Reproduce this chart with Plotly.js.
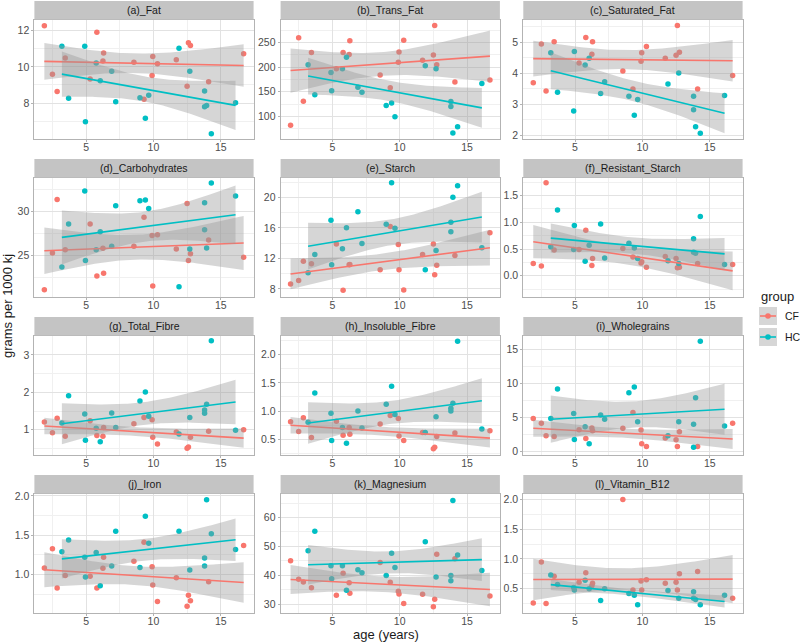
<!DOCTYPE html>
<html><head><meta charset="utf-8">
<script src="https://cdn.plot.ly/plotly-3.0.1.min.js"></script>
<style>html,body{margin:0;padding:0;background:#fff}</style>
</head><body><div id="chart" style="width:800px;height:644px"></div>
<script>
// ---- data ----
const groups = ['CF', 'HC'];
const ageCF = [1.9, 2.5, 2.85, 3.45, 5.3, 5.8, 6.25, 6.3, 8.55, 9.3, 9.9, 9.95, 10.3, 11.7, 12.5, 12.6, 12.75, 14.1, 16.7];
const ageHC = [3.2, 3.7, 4.9, 4.95, 5.75, 6.05, 6.9, 7.2, 9.0, 9.4, 9.65, 11.9, 12.7, 13.8, 13.8, 13.95, 14.3, 16.1];
const panelTitles = ['(a)_Fat', '(b)_Trans_Fat', '(c)_Saturated_Fat', '(d)_Carbohydrates', '(e)_Starch',
  '(f)_Resistant_Starch', '(g)_Total_Fibre', '(h)_Insoluble_Fibre', '(i)_Wholegrains', '(j)_Iron',
  '(k)_Magnesium', '(l)_Vitamin_B12'];
const fatCF = [12.28, 9.59, 8.64, 10.49, 9.33, 11.91, 10.32, 10.77, 10.26, 8.21, 9.53, 10.58, 10.17, 10.39, 8.93, 11.33, 11.18, 9.18, 10.73];
const fatHC = [11.14, 8.26, 11.14, 6.97, 10.22, 9.23, 9.76, 8.07, 8.3, 7.16, 8.43, 11.03, 9.76, 8.67, 7.79, 7.87, 6.3, 8.02];
const transCF = [82, 260, 131, 230, 197, 230, 226, 254, 184, 158, 210, 231, 255, 214, 225, 285, 205, 170, 174];
const transHC = [205, 144, 189, 152, 197, 220, 159, 149, 122, 127, 99, 203, 197, 130, 120, 66, 79, 167];
const satCF = [3.70, 4.95, 3.43, 5.02, 4.34, 5.16, 4.62, 5.02, 4.08, 3.50, 4.39, 4.67, 4.87, 4.49, 4.59, 5.55, 4.68, 3.50, 3.93];
const satHC = [4.67, 3.39, 2.79, 4.71, 4.27, 4.49, 3.35, 3.73, 3.26, 2.65, 3.16, 3.66, 4.01, 3.26, 2.83, 2.28, 2.07, 3.29];
const carbCF = [21.15, 25.31, 31.37, 25.69, 28.59, 22.71, 25.84, 23.02, 26.07, 29.35, 27.29, 21.6, 27.37, 25.76, 30.92, 24.47, 25.23, 26.79, 24.85];
const carbHC = [23.74, 28.59, 32.33, 24.47, 25.69, 27.71, 26.07, 30.65, 31.22, 31.3, 30.34, 21.49, 25.76, 30.99, 27.94, 25.88, 33.24, 31.76];
const starchCF = [8.65, 9.1, 11.62, 11.31, 13.88, 7.81, 11.18, 11.2, 10.51, 16.18, 13.83, 10.51, 7.86, 12.5, 13.88, 9.85, 11.09, 12.37, 15.38];
const starchHC = [10.12, 12.5, 17.02, 11.18, 13.26, 16.04, 18.12, 13.96, 16.49, 21.93, 15.96, 10.51, 13.04, 16.75, 15.51, 20.03, 21.53, 13.39];
const rsCF = [0.23, 0.18, 1.74, 0.48, 0.49, 0.85, 0.19, 0.32, 0.51, 0.35, 0.24, 0.26, 0.16, 0.36, 0.32, 0.15, 0.16, 0.23, 0.21];
const rsHC = [0.54, 1.23, 0.49, 0.94, 0.27, 0.57, 0.97, 0.33, 0.61, 0.52, 0.32, 0.28, 0.23, 0.69, 0.44, 0.42, 1.11, 0.21];
const fibCF = [1.21, 0.92, 1.31, 0.83, 1.24, 0.85, 0.83, 1.06, 1.16, 1.33, 1.27, 0.80, 0.62, 0.94, 0.51, 0.54, 0.80, 0.96, 1.00];
const fibHC = [1.18, 1.91, 1.42, 0.72, 1.04, 0.68, 1.45, 1.06, 1.77, 2.01, 1.36, 0.89, 1.33, 1.53, 1.44, 1.68, 3.38, 0.99];
const insCF = [0.81, 0.64, 0.88, 0.53, 0.82, 0.57, 0.71, 0.59, 0.77, 0.92, 0.87, 0.56, 0.48, 0.62, 0.33, 0.36, 0.55, 0.61, 0.65];
const insHC = [0.80, 1.32, 0.96, 0.48, 0.71, 0.43, 1.00, 0.70, 1.12, 1.44, 0.94, 0.62, 0.90, 1.05, 1.00, 1.14, 2.24, 0.68];
const wgCF = [4.8, 4.1, 2.26, 2.16, 3.16, 1.87, 3.41, 3.01, 3.36, 5.7, 3.11, 1.07, 0.67, 1.92, 1.67, 0.67, 2.86, 0.67, 4.1];
const wgHC = [4.8, 9.18, 5.55, 1.72, 3.61, 1.07, 5.35, 4.7, 8.63, 9.48, 4.35, 2.26, 4.35, 3.96, 0.57, 7.89, 16.24, 3.71];
const ironCF = [1.085, 1.33, 0.83, 0.99, 0.98, 0.83, 1.08, 1.22, 1.17, 1.41, 1.10, 0.87, 0.66, 0.96, 0.60, 0.74, 0.67, 0.91, 1.37];
const ironHC = [1.29, 1.44, 1.22, 0.97, 1.28, 0.86, 1.11, 1.55, 1.09, 1.74, 1.40, 1.55, 1.06, 1.21, 1.11, 1.95, 1.52, 1.32];
const mgCF = [45.0, 38.6, 37.7, 35.7, 33.1, 40.7, 37.4, 33.8, 44.4, 37.6, 34.5, 33.5, 30.2, 33.4, 29.1, 31.7, 47.3, 45.7, 32.8];
const mgHC = [48.5, 55.2, 43.3, 38.8, 43.3, 34.8, 41.9, 40.9, 39.9, 47.6, 42.7, 51.6, 39.4, 39.9, 38.1, 65.9, 47.0, 41.6];
const b12CF = [0.26, 0.95, 0.25, 0.71, 0.61, 0.77, 0.55, 0.59, 2.00, 0.48, 0.63, 0.48, 0.65, 0.59, 0.61, 0.48, 0.75, 0.79, 0.34];
const b12HC = [0.73, 0.57, 0.52, 0.48, 0.64, 0.50, 0.30, 0.50, 0.42, 0.39, 0.23, 0.47, 0.34, 0.45, 0.34, 0.32, 0.23, 0.39];

const seriesCF = [fatCF, transCF, satCF, carbCF, starchCF, rsCF, fibCF, insCF, wgCF, ironCF, mgCF, b12CF];
const seriesHC = [fatHC, transHC, satHC, carbHC, starchHC, rsHC, fibHC, insHC, wgHC, ironHC, mgHC, b12HC];

// ---- styles / layout config ----
const W = 800, H = 644;
const colPx = [[34.4, 253.6], [280.6, 499.9], [523.3, 742.6]];
const rowPx = [[19.5, 138.5], [177.5, 296.5], [335.5, 454.5], [493.5, 612.5]];
const stripH = 18.5;
const yAxisCfg = [
  {range: [6.04, 12.62], dtick: 2, fmt: ''},
  {range: [55, 297], dtick: 50, fmt: ''},
  {range: [1.9, 5.74], dtick: 1, fmt: ''},
  {range: [20.4, 33.85], dtick: 5, fmt: ''},
  {range: [7.0, 22.62], dtick: 4, fmt: ''},
  {range: [-0.39, 1.84], dtick: 0.5, fmt: '.1f'},
  {range: [0.34, 3.52], dtick: 1, fmt: ''},
  {range: [0.23, 2.34], dtick: 0.5, fmt: '.1f'},
  {range: [-0.5, 17.08], dtick: 5, fmt: ''},
  {range: [0.52, 2.03], dtick: 0.5, fmt: '.1f'},
  {range: [27.1, 68.3], dtick: 10, fmt: ''},
  {range: [0.1, 2.1], dtick: 0.5, fmt: '.1f'}
];
const colors = {CF: '#F8766D', HC: '#00BFC4'};
const bandFill = 'rgba(153,153,153,0.4)';
const keyFill = '#D6D6D6';
const FONT = 'Liberation Sans, Arial, sans-serif';
const T95 = {16: 2.119905, 17: 2.109816};

function fitLM(x, y, nOut) {
  const n = x.length;
  const mx = x.reduce((a, b) => a + b, 0) / n;
  const my = y.reduce((a, b) => a + b, 0) / n;
  let sxx = 0, sxy = 0;
  for (let i = 0; i < n; i++) { sxx += (x[i] - mx) ** 2; sxy += (x[i] - mx) * (y[i] - my); }
  const b = sxy / sxx, a = my - b * mx;
  let sse = 0;
  for (let i = 0; i < n; i++) sse += (y[i] - a - b * x[i]) ** 2;
  const s = Math.sqrt(sse / (n - 2));
  const t = T95[n - 2];
  const xmin = Math.min(...x), xmax = Math.max(...x);
  const xs = [], fit = [], lo = [], hi = [];
  for (let k = 0; k < nOut; k++) {
    const xv = xmin + (xmax - xmin) * k / (nOut - 1);
    const f = a + b * xv;
    const se = s * Math.sqrt(1 / n + (xv - mx) ** 2 / sxx);
    xs.push(xv); fit.push(f); lo.push(f - t * se); hi.push(f + t * se);
  }
  return {xs, fit, lo, hi};
}

const traces = [];
const layout = {
  width: W, height: H,
  margin: {l: 0, r: 0, t: 0, b: 0},
  paper_bgcolor: '#ffffff', plot_bgcolor: '#ffffff',
  font: {family: FONT, size: 10.5, color: '#4D4D4D'},
  showlegend: false,
  shapes: [], annotations: []
};

for (let p = 0; p < 12; p++) {
  const r = Math.floor(p / 3), c = p % 3;
  const sfx = p === 0 ? '' : String(p + 1);
  const xa = 'x' + sfx, ya = 'y' + sfx;
  const xd = [colPx[c][0] / W, colPx[c][1] / W];
  const yd = [1 - rowPx[r][1] / H, 1 - rowPx[r][0] / H];
  const cfg = yAxisCfg[p];

  layout['xaxis' + sfx] = {
    domain: xd, anchor: ya, range: [1.16, 17.44], tick0: 0, dtick: 5,
    showgrid: true, gridcolor: '#E2E2E2', gridwidth: 1,
    minor: {tick0: 2.5, dtick: 5, showgrid: true, gridcolor: '#F0F0F0', gridwidth: 1, ticks: ''},
    zeroline: false, showline: true, mirror: true, linecolor: '#B3B3B3', linewidth: 1,
    ticks: 'outside', ticklen: 2, tickcolor: '#B3B3B3', ticklabelstandoff: -3,
    tickfont: {size: 10.5, color: '#4D4D4D', family: FONT}, fixedrange: true
  };
  layout['yaxis' + sfx] = {
    domain: yd, anchor: xa, range: cfg.range, tick0: 0, dtick: cfg.dtick, tickformat: cfg.fmt,
    showgrid: true, gridcolor: '#E2E2E2', gridwidth: 1,
    minor: {tick0: cfg.dtick / 2, dtick: cfg.dtick, showgrid: true, gridcolor: '#F0F0F0', gridwidth: 1, ticks: ''},
    zeroline: false, showline: true, mirror: true, linecolor: '#B3B3B3', linewidth: 1,
    ticks: 'outside', ticklen: 2, tickcolor: '#B3B3B3',
    tickfont: {size: 10.5, color: '#4D4D4D', family: FONT}, fixedrange: true
  };

  // strip
  layout.shapes.push({type: 'rect', xref: 'paper', yref: 'paper', layer: 'above',
    x0: xd[0], x1: xd[1], y0: yd[1], y1: yd[1] + stripH / H,
    fillcolor: '#C4C4C4', line: {width: 0}});
  layout.annotations.push({xref: 'paper', yref: 'paper', x: (xd[0] + xd[1]) / 2, y: yd[1] + stripH / 2 / H,
    xanchor: 'center', yanchor: 'middle', showarrow: false, text: panelTitles[p],
    font: {size: 10.5, color: '#1A1A1A', family: FONT}});

  const data = {CF: [ageCF, seriesCF[p]], HC: [ageHC, seriesHC[p]]};
  groups.forEach(g => {
    traces.push({type: 'scatter', mode: 'markers', x: data[g][0], y: data[g][1], xaxis: xa, yaxis: ya,
      name: g, legendgroup: g, marker: {color: colors[g], size: 5.5}, hoverinfo: 'x+y'});
  });
  groups.forEach(g => {
    const f = fitLM(data[g][0], data[g][1], 80);
    traces.push({type: 'scatter', mode: 'lines', xaxis: xa, yaxis: ya,
      x: f.xs.concat(f.xs.slice().reverse()), y: f.hi.concat(f.lo.slice().reverse()),
      fill: 'toself', fillcolor: bandFill, line: {width: 0}, hoverinfo: 'skip'});
    traces.push({type: 'scatter', mode: 'lines', xaxis: xa, yaxis: ya, x: f.xs, y: f.fit,
      name: g, line: {color: colors[g], width: 1.6}, hoverinfo: 'skip'});
  });
}

// axis titles
layout.annotations.push({xref: 'paper', yref: 'paper', x: 386 / W, y: 1 - 634 / H, xanchor: 'center', yanchor: 'middle',
  showarrow: false, text: 'age (years)', font: {size: 13, color: '#1A1A1A', family: FONT}});
layout.annotations.push({xref: 'paper', yref: 'paper', x: 8 / W, y: 1 - 306 / H, xanchor: 'center', yanchor: 'middle',
  showarrow: false, textangle: -90, text: 'grams per 1000 kj', font: {size: 13, color: '#1A1A1A', family: FONT}});

// legend (ggplot-style keys: grey box + line + point)
layout.annotations.push({xref: 'paper', yref: 'paper', x: 759 / W, y: 1 - 297 / H, xanchor: 'left', yanchor: 'middle',
  showarrow: false, text: 'group', font: {size: 13, color: '#1A1A1A', family: FONT}});
const keyTop = [307, 328];
groups.forEach((g, i) => {
  const y0 = keyTop[i], yc = y0 + 9;
  layout.shapes.push({type: 'rect', xref: 'paper', yref: 'paper', x0: 759 / W, x1: 777 / W,
    y0: 1 - (y0 + 18) / H, y1: 1 - y0 / H, fillcolor: keyFill, line: {width: 0}});
  layout.shapes.push({type: 'line', xref: 'paper', yref: 'paper', x0: 760 / W, x1: 776 / W,
    y0: 1 - yc / H, y1: 1 - yc / H, line: {color: colors[g], width: 1.6}});
  layout.shapes.push({type: 'circle', xref: 'paper', yref: 'paper', x0: 765.2 / W, x1: 770.8 / W,
    y0: 1 - (yc + 2.8) / H, y1: 1 - (yc - 2.8) / H, fillcolor: colors[g], line: {width: 0}});
  layout.annotations.push({xref: 'paper', yref: 'paper', x: 783 / W, y: 1 - yc / H, xanchor: 'left', yanchor: 'middle',
    showarrow: false, text: g, font: {size: 10.5, color: '#1A1A1A', family: FONT}});
});

Plotly.newPlot('chart', traces, layout, {displayModeBar: false, staticPlot: true});
</script>
</body></html>
